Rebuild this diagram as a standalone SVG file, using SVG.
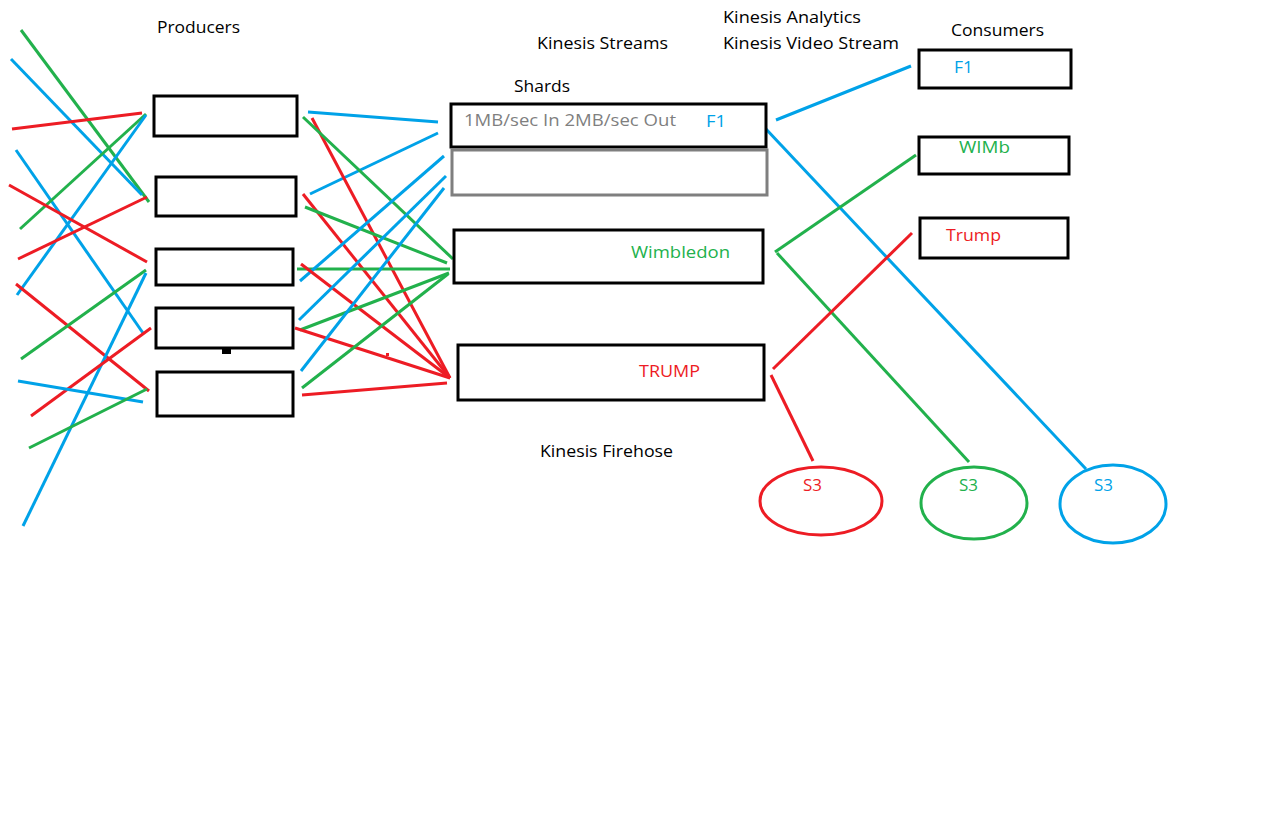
<svg xmlns="http://www.w3.org/2000/svg" width="1271" height="814" viewBox="0 0 1271 814">
<style>
.bx{fill:#fff;stroke:#000;stroke-width:3}
.gx{fill:#fff;stroke:#7f7f7f;stroke-width:3}
.t{font-family:"Open Sans","Liberation Sans",sans-serif;font-size:17px;fill:#000}
.tb{fill:#00a2e8}.tr{fill:#ed1c24}.tg{fill:#22b14c}.tgr{fill:#7f7f7f}
.b,.r,.g{stroke-width:3;fill:none}
.b{stroke:#00a2e8}.r{stroke:#ed1c24}.g{stroke:#22b14c}
</style>
<rect width="1271" height="814" fill="#fff"/>
<g id="connectors">
<line class="g" x1="21" y1="30" x2="149" y2="202"/>
<line class="b" x1="11" y1="59" x2="142" y2="195"/>
<line class="r" x1="12" y1="129" x2="142" y2="113"/>
<line class="b" x1="16" y1="150" x2="143" y2="333"/>
<line class="g" x1="20" y1="229" x2="146" y2="114"/>
<line class="b" x1="17" y1="295" x2="146" y2="115"/>
<line class="r" x1="9" y1="185" x2="147" y2="262"/>
<line class="r" x1="18" y1="259" x2="147" y2="197"/>
<line class="r" x1="16" y1="284" x2="149" y2="391"/>
<line class="g" x1="21" y1="359" x2="146" y2="270"/>
<line class="b" x1="23" y1="526" x2="146" y2="273"/>
<line class="r" x1="31" y1="416" x2="151" y2="328"/>
<line class="b" x1="18" y1="381" x2="143" y2="402"/>
<line class="g" x1="29" y1="448" x2="147" y2="389"/>
<line class="b" x1="308" y1="112" x2="438" y2="122"/>
<line class="b" x1="310" y1="194" x2="438" y2="133"/>
<line class="r" x1="312" y1="118" x2="450" y2="378"/>
<line class="g" x1="303" y1="117" x2="453" y2="259"/>
<line class="r" x1="303" y1="194" x2="450" y2="378"/>
<line class="g" x1="305" y1="207" x2="447" y2="263"/>
<line class="g" x1="297" y1="269" x2="450" y2="269"/>
<line class="b" x1="300" y1="281" x2="444" y2="156"/>
<line class="r" x1="301" y1="264" x2="450" y2="378"/>
<line class="b" x1="299" y1="320" x2="446" y2="176"/>
<line class="g" x1="300" y1="330" x2="449" y2="273"/>
<line class="r" x1="295" y1="328" x2="450" y2="378"/>
<line class="b" x1="301" y1="371" x2="444" y2="188"/>
<line class="g" x1="302" y1="388" x2="448" y2="274"/>
<line class="r" x1="302" y1="395" x2="447" y2="383"/>
<rect x="386" y="353" width="3" height="3" fill="#ed1c24"/>
<line class="b" x1="776" y1="120" x2="911" y2="66"/>
<line class="b" x1="765" y1="128" x2="1086" y2="469"/>
<line class="g" x1="775" y1="252" x2="916" y2="155"/>
<line class="g" x1="777" y1="253" x2="969" y2="462"/>
<line class="r" x1="773" y1="369" x2="912" y2="233"/>
<line class="r" x1="771" y1="375" x2="813" y2="461"/>
</g>
<g id="labels">
<text class="t" x="157" y="33" textLength="83" lengthAdjust="spacingAndGlyphs">Producers</text>
<text class="t" x="537" y="49" textLength="131" lengthAdjust="spacingAndGlyphs">Kinesis Streams</text>
<text class="t" x="514" y="92" textLength="56" lengthAdjust="spacingAndGlyphs">Shards</text>
<text class="t" x="723" y="23" textLength="138" lengthAdjust="spacingAndGlyphs">Kinesis Analytics</text>
<text class="t" x="723" y="49" textLength="176" lengthAdjust="spacingAndGlyphs">Kinesis Video Stream</text>
<text class="t" x="951" y="36" textLength="93" lengthAdjust="spacingAndGlyphs">Consumers</text>
<text class="t" x="540" y="457" textLength="133" lengthAdjust="spacingAndGlyphs">Kinesis Firehose</text>
</g>
<g id="producer1"><rect class="bx" x="154" y="96" width="143" height="40"/></g>
<g id="producer2"><rect class="bx" x="156" y="177" width="140" height="39"/></g>
<g id="producer3"><rect class="bx" x="156" y="249" width="137" height="36"/></g>
<g id="producer4"><rect class="bx" x="156" y="308" width="137" height="40"/><rect x="222" y="349" width="9" height="5" fill="#000"/></g>
<g id="producer5"><rect class="bx" x="157" y="372" width="136" height="44"/></g>
<g id="shard1"><rect class="bx" x="451" y="104" width="315" height="43"/>
<text class="t tgr" x="464" y="126" textLength="212" lengthAdjust="spacingAndGlyphs">1MB/sec In 2MB/sec Out</text>
<text class="t tb" x="706" y="127" textLength="20" lengthAdjust="spacingAndGlyphs">F1</text></g>
<g id="shard2"><rect class="gx" x="452" y="150" width="315" height="45"/></g>
<g id="wimbledon"><rect class="bx" x="454" y="230" width="309" height="53"/>
<text class="t tg" x="631" y="258" textLength="99" lengthAdjust="spacingAndGlyphs">Wimbledon</text></g>
<g id="trump"><rect class="bx" x="458" y="345" width="306" height="55"/>
<text class="t tr" x="639" y="377" textLength="61" lengthAdjust="spacingAndGlyphs">TRUMP</text></g>
<g id="consumerF1"><rect class="bx" x="919" y="50" width="152" height="38"/>
<text class="t tb" x="954" y="73" textLength="19" lengthAdjust="spacingAndGlyphs">F1</text></g>
<g id="consumerWIMb"><rect class="bx" x="919" y="137" width="150" height="37"/>
<text class="t tg" x="959" y="153" textLength="51" lengthAdjust="spacingAndGlyphs">WIMb</text></g>
<g id="consumerTrump"><rect class="bx" x="920" y="218" width="148" height="40"/>
<text class="t tr" x="946" y="241" textLength="55" lengthAdjust="spacingAndGlyphs">Trump</text></g>
<g id="s3red"><ellipse cx="821" cy="501" rx="61" ry="34" fill="none" stroke="#ed1c24" stroke-width="3"/>
<text class="t tr" x="803" y="491" textLength="19" lengthAdjust="spacingAndGlyphs">S3</text></g>
<g id="s3green"><ellipse cx="974" cy="503" rx="53" ry="36" fill="none" stroke="#22b14c" stroke-width="3"/>
<text class="t tg" x="959" y="491" textLength="19" lengthAdjust="spacingAndGlyphs">S3</text></g>
<g id="s3blue"><ellipse cx="1113" cy="504" rx="53" ry="39" fill="none" stroke="#00a2e8" stroke-width="3"/>
<text class="t tb" x="1094" y="491" textLength="19" lengthAdjust="spacingAndGlyphs">S3</text></g>
</svg>
